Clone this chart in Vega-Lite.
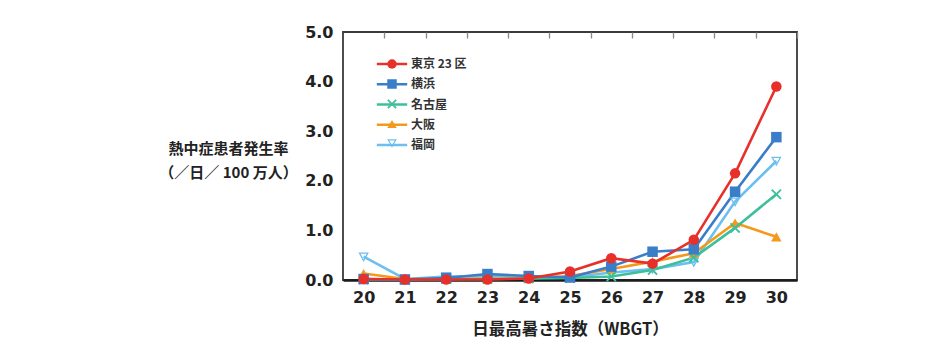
{
  "$schema": "https://vega.github.io/schema/vega-lite/v6.json",
  "width": 454,
  "height": 248,
  "autosize": "none",
  "padding": {"left": 343, "top": 32, "right": 153, "bottom": 75},
  "background": "white",
  "config": {
    "view": {"stroke": "#3a3a3a", "strokeWidth": 1.8},
    "font": "Noto Sans CJK JP"
  },
  "data": {
    "values": [
      {"wbgt": 20, "city": "福岡", "rate": 0.47},
      {"wbgt": 21, "city": "福岡", "rate": 0.02},
      {"wbgt": 22, "city": "福岡", "rate": 0.07},
      {"wbgt": 23, "city": "福岡", "rate": 0.08},
      {"wbgt": 24, "city": "福岡", "rate": 0.08},
      {"wbgt": 25, "city": "福岡", "rate": 0.05},
      {"wbgt": 26, "city": "福岡", "rate": 0.15},
      {"wbgt": 27, "city": "福岡", "rate": 0.22},
      {"wbgt": 28, "city": "福岡", "rate": 0.36},
      {"wbgt": 29, "city": "福岡", "rate": 1.58},
      {"wbgt": 30, "city": "福岡", "rate": 2.40},
      {"wbgt": 20, "city": "大阪", "rate": 0.13},
      {"wbgt": 21, "city": "大阪", "rate": 0.02},
      {"wbgt": 22, "city": "大阪", "rate": 0.02},
      {"wbgt": 23, "city": "大阪", "rate": 0.03},
      {"wbgt": 24, "city": "大阪", "rate": 0.03},
      {"wbgt": 25, "city": "大阪", "rate": 0.08},
      {"wbgt": 26, "city": "大阪", "rate": 0.22},
      {"wbgt": 27, "city": "大阪", "rate": 0.37},
      {"wbgt": 28, "city": "大阪", "rate": 0.54},
      {"wbgt": 29, "city": "大阪", "rate": 1.15},
      {"wbgt": 30, "city": "大阪", "rate": 0.87},
      {"wbgt": 20, "city": "名古屋", "rate": 0.01},
      {"wbgt": 21, "city": "名古屋", "rate": 0.01},
      {"wbgt": 22, "city": "名古屋", "rate": 0.02},
      {"wbgt": 23, "city": "名古屋", "rate": 0.02},
      {"wbgt": 24, "city": "名古屋", "rate": 0.03},
      {"wbgt": 25, "city": "名古屋", "rate": 0.04},
      {"wbgt": 26, "city": "名古屋", "rate": 0.07},
      {"wbgt": 27, "city": "名古屋", "rate": 0.20},
      {"wbgt": 28, "city": "名古屋", "rate": 0.45},
      {"wbgt": 29, "city": "名古屋", "rate": 1.05},
      {"wbgt": 30, "city": "名古屋", "rate": 1.73},
      {"wbgt": 20, "city": "横浜", "rate": 0.02},
      {"wbgt": 21, "city": "横浜", "rate": 0.01},
      {"wbgt": 22, "city": "横浜", "rate": 0.04},
      {"wbgt": 23, "city": "横浜", "rate": 0.12},
      {"wbgt": 24, "city": "横浜", "rate": 0.08},
      {"wbgt": 25, "city": "横浜", "rate": 0.05},
      {"wbgt": 26, "city": "横浜", "rate": 0.27},
      {"wbgt": 27, "city": "横浜", "rate": 0.57},
      {"wbgt": 28, "city": "横浜", "rate": 0.62},
      {"wbgt": 29, "city": "横浜", "rate": 1.78},
      {"wbgt": 30, "city": "横浜", "rate": 2.88},
      {"wbgt": 20, "city": "東京 23 区", "rate": 0.02},
      {"wbgt": 21, "city": "東京 23 区", "rate": 0.01},
      {"wbgt": 22, "city": "東京 23 区", "rate": 0.01},
      {"wbgt": 23, "city": "東京 23 区", "rate": 0.01},
      {"wbgt": 24, "city": "東京 23 区", "rate": 0.03},
      {"wbgt": 25, "city": "東京 23 区", "rate": 0.17},
      {"wbgt": 26, "city": "東京 23 区", "rate": 0.44},
      {"wbgt": 27, "city": "東京 23 区", "rate": 0.33},
      {"wbgt": 28, "city": "東京 23 区", "rate": 0.81},
      {"wbgt": 29, "city": "東京 23 区", "rate": 2.15},
      {"wbgt": 30, "city": "東京 23 区", "rate": 3.90}
    ]
  },
  "encoding": {
    "x": {
      "field": "wbgt",
      "type": "quantitative",
      "scale": {"domain": [19.5, 30.5], "nice": false, "zero": false},
      "axis": {
        "values": [20, 21, 22, 23, 24, 25, 26, 27, 28, 29, 30],
        "format": "d",
        "grid": true,
        "gridDash": [6, 600],
        "gridColor": "#888",
        "gridWidth": 1.3,
        "gridOpacity": 1,
        "ticks": false,
        "tickOffset": 20.64,
        "labelOffset": -20.64,
        "domain": true,
        "domainColor": "#1a1a1a",
        "domainWidth": 2.5,
        "labelFont": "DejaVu Sans",
        "labelFontWeight": "bold",
        "labelFontSize": 16,
        "labelColor": "#222",
        "labelPadding": 9,
        "labelFlush": false,
        "labelOverlap": false,
        "title": "日最高暑さ指数（WBGT）",
        "titleFont": "Noto Sans CJK JP",
        "titleFontWeight": "bold",
        "titleFontSize": 16.5,
        "titleColor": "#222",
        "titlePadding": 16
      }
    },
    "y": {
      "field": "rate",
      "type": "quantitative",
      "scale": {"domain": [0, 5], "nice": false},
      "axis": {
        "values": [0, 1, 2, 3, 4, 5],
        "format": ".1f",
        "grid": false,
        "ticks": false,
        "domain": false,
        "labelFont": "DejaVu Sans",
        "labelFontWeight": "bold",
        "labelFontSize": 16,
        "labelColor": "#222",
        "labelPadding": 10,
        "title": ["熱中症患者発生率", "（／日／ 100 万人）"],
        "titleFont": "Noto Sans CJK JP",
        "titleFontWeight": "bold",
        "titleFontSize": 15,
        "titleLineHeight": 24,
        "titleColor": "#222",
        "titleAngle": 0,
        "titleAlign": "center",
        "titleBaseline": "middle",
        "titleX": -115,
        "titleY": 116
      }
    }
  },
  "layer": [
    {
      "mark": {"type": "line", "strokeWidth": 2.6},
      "encoding": {
        "stroke": {
          "field": "city",
          "type": "nominal",
          "sort": null,
          "scale": {
            "domain": ["福岡", "大阪", "名古屋", "横浜", "東京 23 区"],
            "range": ["#6cbfee", "#f39a1e", "#3dbf9b", "#3a7dc9", "#e8302a"]
          },
          "legend": {
            "title": null,
            "orient": "none",
            "legendX": 43,
            "legendY": 26,
            "values": ["東京 23 区", "横浜", "名古屋", "大阪", "福岡"],
            "symbolType": "M-3.2,0L3.2,0",
            "symbolSize": 90,
            "symbolStrokeWidth": 2.5,
            "labelFont": "Noto Sans CJK JP",
            "labelFontWeight": "bold",
            "labelFontSize": 12,
            "labelColor": "#333",
            "labelOffset": 13,
            "rowPadding": 8.25
          }
        }
      }
    },
    {
      "mark": {"type": "point", "filled": true, "opacity": 1, "size": 110},
      "encoding": {
        "color": {
          "field": "city",
          "type": "nominal",
          "sort": null,
          "scale": {
            "domain": ["東京 23 区", "横浜", "名古屋", "大阪", "福岡"],
            "range": ["#e8302a", "#3a7dc9", "#3dbf9b", "#f39a1e", "#6cbfee"]
          },
          "legend": {
            "title": null,
            "orient": "none",
            "legendX": 43,
            "legendY": 26,
            "symbolSize": 90,
            "symbolOpacity": 1,
            "symbolStrokeWidth": 2.5,
            "labelFont": "Noto Sans CJK JP",
            "labelFontWeight": "bold",
            "labelFontSize": 12,
            "labelOpacity": 0,
            "labelOffset": 13,
            "rowPadding": 0
          }
        },
        "shape": {
          "field": "city",
          "type": "nominal",
          "sort": null,
          "scale": {
            "domain": ["東京 23 区", "横浜", "名古屋", "大阪", "福岡"],
            "range": [
              "circle",
              "square",
              "M-1,-0.75L-0.75,-1L0,-0.25L0.75,-1L1,-0.75L0.25,0L1,0.75L0.75,1L0,0.25L-0.75,1L-1,0.75L-0.25,0Z",
              "triangle-up",
              "M-1,-0.8L1,-0.8L0,1ZM-0.58,-0.55L0,0.5L0.58,-0.55Z"
            ]
          }
        }
      }
    }
  ]
}
